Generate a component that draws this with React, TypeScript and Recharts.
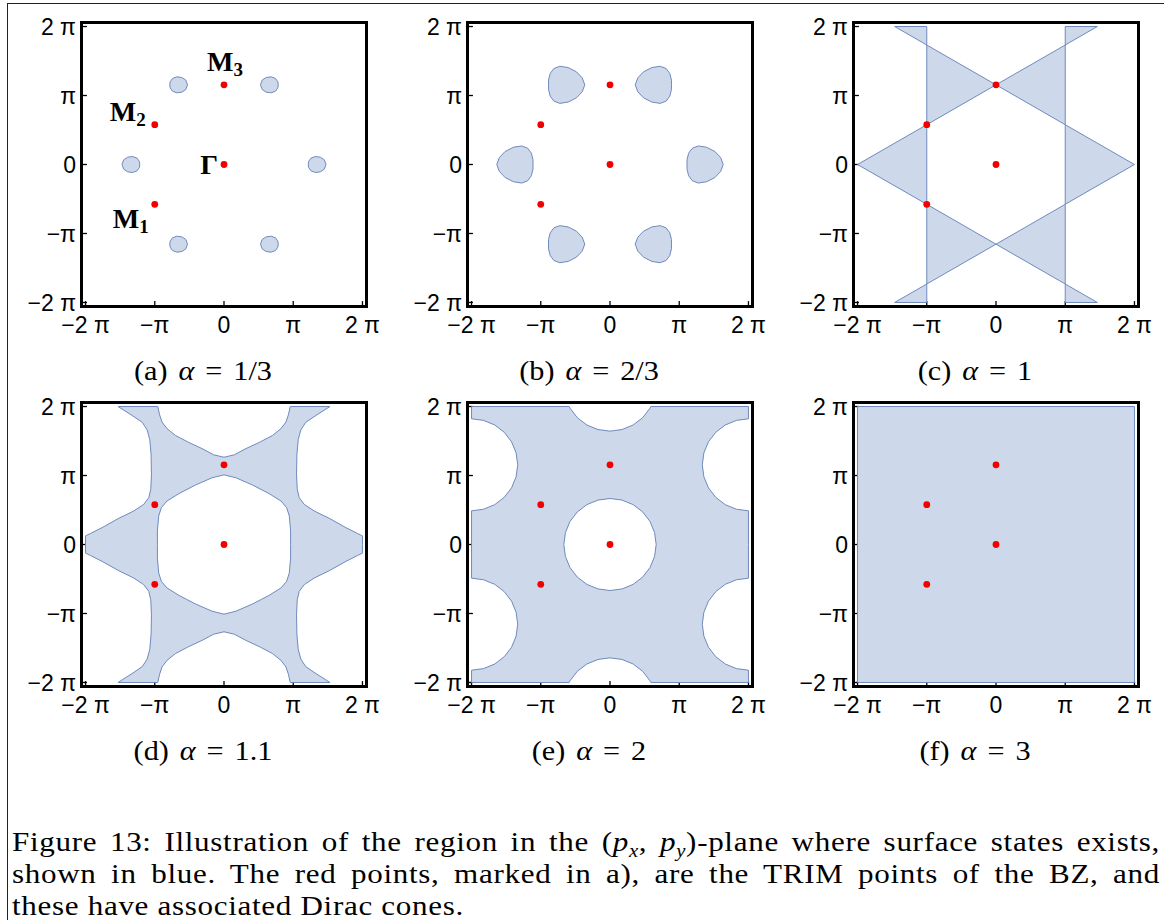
import { ScatterChart, Scatter, XAxis, YAxis, ReferenceLine } from "recharts";

const BLUE = "#cdd8ea";
const EDGE = "#6f8abd";
const DOT = "#f20000";
const SANS = '"Liberation Sans", Arial, sans-serif';
const SERIF = '"Liberation Serif", "Times New Roman", serif';

// all coordinates in units of π
const AXIS_TICKS = [-2, -1, 0, 1, 2];
const AXIS_TICK_LABELS = ["−2 π", "−π", "0", "π", "2 π"];
const DOMAIN: [number, number] = [-2.08, 2.08];

const LETTERS = ["a", "b", "c", "d", "e", "f"];
const ALPHAS = ["1/3", "2/3", "1", "1.1", "2", "3"];

// TRIM points of the BZ
const TRIM = [
  { name: "Γ", x: 0, y: 0 },
  { name: "M1", x: -1, y: -0.577 },
  { name: "M2", x: -1, y: 0.577 },
  { name: "M3", x: 0, y: 1.155 },
];

// K points, pockets there point right / left
const K_TIP_RIGHT = [[-0.667, 1.155], [1.333, 0], [-0.667, -1.155]];
const K_TIP_LEFT = [[0.667, 1.155], [-1.333, 0], [0.667, -1.155]];

// upper half of a pocket outline (tip to the right), offset from its K point
const POCKET_A = [
  [0.14, 0], [0.116, 0.068], [0.058, 0.106], [-0.014, 0.116],
  [-0.077, 0.092], [-0.111, 0.043], [-0.116, 0],
];
const POCKET_B = [
  [0.303, 0], [0.265, 0.101], [0.183, 0.188], [0.063, 0.25], [-0.058, 0.269],
  [-0.144, 0.236], [-0.197, 0.164], [-0.221, 0.067], [-0.221, 0],
];

// alpha = 1: triangles between x = ±π and the slanted lines
const TRIANGLES_C = [
  [[-1.464, 2], [-1, 2], [-1, 1.732]],
  [[1.464, 2], [1, 2], [1, 1.732]],
  [[-1, 1.732], [0, 1.155], [-1, 0.577]],
  [[1, 1.732], [0, 1.155], [1, 0.577]],
  [[-2, 0], [-1, 0.577], [-1, -0.577]],
  [[2, 0], [1, 0.577], [1, -0.577]],
  [[-1.464, -2], [-1, -2], [-1, -1.732]],
  [[1.464, -2], [1, -2], [1, -1.732]],
  [[-1, -1.732], [0, -1.155], [-1, -0.577]],
  [[1, -1.732], [0, -1.155], [1, -0.577]],
];

// alpha = 1.1, upper-left quarter: outer edge from the top notch to the left tip
const OUTER_D = [
  [0, 1.265], [-0.149, 1.3], [-0.317, 1.39], [-0.51, 1.48], [-0.7, 1.58],
  [-0.823, 1.68], [-0.895, 1.775], [-0.93, 1.88], [-0.957, 2], [-1.53, 2],
  [-1.327, 1.87], [-1.18, 1.77], [-1.11, 1.66], [-1.072, 1.52], [-1.053, 1.3],
  [-1.048, 1.01], [-1.058, 0.8], [-1.087, 0.678], [-1.159, 0.582], [-1.303, 0.486],
  [-1.52, 0.38], [-1.76, 0.245], [-1.93, 0.159], [-2, 0.125], [-2, 0],
];
const HOLE_D = [
  [0, 1.01], [-0.173, 0.967], [-0.414, 0.861], [-0.654, 0.736], [-0.823, 0.63],
  [-0.905, 0.534], [-0.943, 0.414], [-0.962, 0.198], [-0.962, 0],
];

// alpha = 2, upper-left quarter
const OUTER_E = [
  [0, 1.643], [-0.173, 1.666], [-0.334, 1.732], [-0.472, 1.838], [-0.578, 1.976],
  [-0.591, 2], [-2, 2], [-2, 1.822], [-1.827, 1.799], [-1.666, 1.733],
  [-1.528, 1.627], [-1.422, 1.489], [-1.356, 1.328], [-1.333, 1.155],
  [-1.356, 0.982], [-1.422, 0.821], [-1.528, 0.683], [-1.666, 0.577],
  [-1.827, 0.511], [-2, 0.488], [-2, 0],
];
const HOLE_E = [
  [0, 0.667], [-0.173, 0.644], [-0.334, 0.578], [-0.472, 0.472],
  [-0.578, 0.334], [-0.644, 0.173], [-0.667, 0],
];

const SQUARE_F = [[-2, 2], [2, 2], [2, -2], [-2, -2]];

const LABEL_POS: Record<string, { dx: number; dy: number; anchor: string }> = {
  M3: { dx: 1, dy: -14, anchor: "middle" },
  M2: { dx: -9, dy: -4, anchor: "end" },
  "Γ": { dx: -6, dy: 9, anchor: "end" },
  M1: { dx: -6, dy: 24, anchor: "end" },
};

const COL_X = [80, 466, 852];
const ROW_Y = [21, 401];
const FRAME_W = 288;
const FRAME_H = 287;

const fullFromQuarter = (q: number[][]) => [
  ...q,
  ...[...q].reverse().map(([x, y]) => [x, -y]),
  ...q.map(([x, y]) => [-x, -y]),
  ...[...q].reverse().map(([x, y]) => [-x, y]),
];
const fullFromHalf = (h: number[][]) => [...h, ...[...h].reverse().map(([x, y]) => [x, -y])];
const pocket = (half: number[][], k: number[], flip: boolean) =>
  fullFromHalf(half).map(([x, y]) => [k[0] + (flip ? -x : x), k[1] + y]);
const pockets = (half: number[][]) => [
  ...K_TIP_RIGHT.map((k) => pocket(half, k, false)),
  ...K_TIP_LEFT.map((k) => pocket(half, k, true)),
];
const toPts = (arr: number[][]) => arr.map(([x, y]) => ({ x, y }));

const REGIONS = [
  { blue: pockets(POCKET_A), white: [] as number[][][] },
  { blue: pockets(POCKET_B), white: [] },
  { blue: TRIANGLES_C, white: [] },
  { blue: [fullFromQuarter(OUTER_D)], white: [fullFromQuarter(HOLE_D)] },
  { blue: [fullFromQuarter(OUTER_E)], white: [fullFromQuarter(HOLE_E)] },
  { blue: [SQUARE_F], white: [] },
];

const fmtTick = (v: number) => AXIS_TICK_LABELS[AXIS_TICKS.indexOf(v)] ?? "";
const Empty = () => <g />;

const trimShape = (withLabels: boolean) => (p: any) => {
  const { cx, cy, payload } = p;
  const lab = LABEL_POS[payload.name];
  return (
    <g>
      <circle cx={cx} cy={cy} r={3.4} fill={DOT} />
      {withLabels && lab && (
        <text
          x={cx + lab.dx}
          y={cy + lab.dy}
          textAnchor={lab.anchor}
          fontFamily={SERIF}
          fontWeight={700}
          fontSize={28}
          fill="#000"
        >
          {payload.name[0]}
          {payload.name.length > 1 && (
            <tspan fontSize={19} dy={5}>
              {payload.name.slice(1)}
            </tspan>
          )}
        </text>
      )}
    </g>
  );
};

// sub-caption below each panel
function SubCaption({ index, left, top }: { index: number; left: number; top: number }) {
  return (
    <div
      style={{
        position: "absolute",
        left: left + 123 - 150,
        top: top + 337,
        width: 300,
        textAlign: "center",
        fontFamily: SERIF,
        fontSize: 27,
        lineHeight: "27px",
        wordSpacing: 3,
        color: "#000",
        whiteSpace: "nowrap",
        transform: "scaleX(1.12)",
      }}
    >
      ({LETTERS[index]}) <i>α</i> = {ALPHAS[index]}
    </div>
  );
}

function Panel({ index }: { index: number }) {
  const left = COL_X[index % 3];
  const top = ROW_Y[Math.floor(index / 3)];
  const region = REGIONS[index];
  const tickStyle = { fill: "#000", fontSize: 23, fontFamily: SANS };
  return (
    <>
      <div style={{ position: "absolute", left: left - 60, top: top - 15 }}>
        <ScatterChart
          width={FRAME_W + 80}
          height={FRAME_H + 65}
          margin={{ top: 15, right: 20, bottom: 0, left: 0 }}
        >
          <XAxis
            type="number"
            dataKey="x"
            domain={DOMAIN}
            allowDataOverflow
            ticks={AXIS_TICKS}
            interval={0}
            tickFormatter={fmtTick}
            tickLine={false}
            axisLine={false}
            tickSize={0}
            tickMargin={9}
            height={50}
            tick={tickStyle}
          />
          <YAxis
            type="number"
            dataKey="y"
            domain={DOMAIN}
            allowDataOverflow
            ticks={AXIS_TICKS}
            interval={0}
            tickFormatter={fmtTick}
            tickLine={false}
            axisLine={false}
            tickSize={0}
            tickMargin={4}
            width={60}
            tick={tickStyle}
          />
          {region.blue.map((poly, i) => (
            <Scatter
              key={`b${i}`}
              data={toPts(poly)}
              line={{ fill: BLUE, stroke: EDGE, strokeWidth: 1 }}
              lineJointType="linearClosed"
              shape={Empty}
              isAnimationActive={false}
            />
          ))}
          {region.white.map((poly, i) => (
            <Scatter
              key={`w${i}`}
              data={toPts(poly)}
              line={{ fill: "#fff", stroke: EDGE, strokeWidth: 1 }}
              lineJointType="linearClosed"
              shape={Empty}
              isAnimationActive={false}
            />
          ))}
          <Scatter data={TRIM} shape={trimShape(index === 0)} isAnimationActive={false} />
          {AXIS_TICKS.map((t) => (
            <ReferenceLine
              key={`tx${t}`}
              segment={[{ x: t, y: -2.07 }, { x: t, y: -1.98 }]}
              stroke="#000"
              strokeWidth={1.3}
              ifOverflow="visible"
            />
          ))}
          {AXIS_TICKS.map((t) => (
            <ReferenceLine
              key={`ty${t}`}
              segment={[{ x: -2.07, y: t }, { x: -1.98, y: t }]}
              stroke="#000"
              strokeWidth={1.3}
              ifOverflow="visible"
            />
          ))}
        </ScatterChart>
      </div>
      <div
        style={{
          position: "absolute",
          left,
          top,
          width: FRAME_W,
          height: FRAME_H,
          border: "3px solid #000",
          boxSizing: "border-box",
          pointerEvents: "none",
        }}
      />
      <SubCaption index={index} left={left} top={top} />
    </>
  );
}

const SUB = { fontSize: 18, position: "relative" as const, top: 6, lineHeight: 0 };

export default function App() {
  const line = { whiteSpace: "nowrap" as const, height: 32 };
  const justify = { ...line, textAlign: "justify" as const, textAlignLast: "justify" as const };
  return (
    <div
      style={{
        position: "absolute",
        left: 0,
        top: 0,
        width: 1164,
        height: 920,
        background: "#fff",
        overflow: "hidden",
      }}
    >
      <div style={{ position: "absolute", left: 7, top: 3, width: 1157, height: 1, background: "#222" }} />
      <div style={{ position: "absolute", left: 7, top: 3, width: 1, height: 917, background: "#222" }} />
      {LETTERS.map((_, i) => (
        <Panel key={i} index={i} />
      ))}
      <div
        style={{
          position: "absolute",
          left: 12,
          top: 826,
          width: 1148 / 1.15,
          fontFamily: SERIF,
          fontSize: 27,
          lineHeight: "32px",
          letterSpacing: 0.6,
          color: "#000",
          transform: "scaleX(1.15)",
          transformOrigin: "0 0",
        }}
      >
        <div style={justify}>
          Figure 13: Illustration of the region in the (<i>p</i>
          <span style={SUB}>
            <i>x</i>
          </span>
          , <i>p</i>
          <span style={SUB}>
            <i>y</i>
          </span>
          )-plane where surface states exists,
        </div>
        <div style={justify}>
          shown in blue. The red points, marked in a), are the TRIM points of the BZ, and
        </div>
        <div style={line}>these have associated Dirac cones.</div>
      </div>
    </div>
  );
}
